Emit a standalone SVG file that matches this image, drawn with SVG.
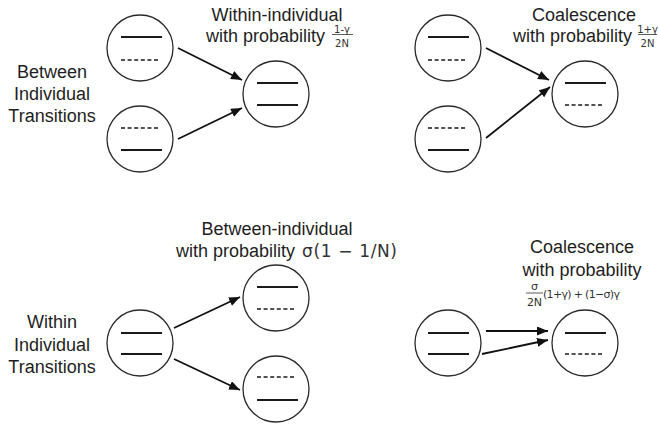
<svg xmlns="http://www.w3.org/2000/svg" width="659" height="427" viewBox="0 0 659 427">
<style>
.c{fill:#fff;stroke:#2a2a2a;stroke-width:1.3}
.s{stroke:#1a1a1a;stroke-width:2;fill:none}
.d{stroke:#1a1a1a;stroke-width:1.6;stroke-dasharray:4 2.6;fill:none}
.a{stroke:#111;stroke-width:1.8;fill:none;marker-end:url(#ah)}
.t{font-family:"Liberation Sans",Arial,sans-serif;font-size:18px;fill:#1e1e1e}
.m{font-family:"DejaVu Sans",sans-serif;fill:#333}
.fb{stroke:#333;stroke-width:0.8}
</style>
<defs>
<marker id="ah" markerUnits="userSpaceOnUse" markerWidth="12" markerHeight="10" refX="11" refY="4.5" orient="auto">
<path d="M0,0 L11,4.5 L0,9 Z" fill="#111"/>
</marker>
</defs>
<rect width="659" height="427" fill="#fff"/>

<g id="labels">
<text class="t" text-anchor="middle"><tspan x="52" y="78">Between</tspan><tspan x="52" y="100">Individual</tspan><tspan x="52" y="122">Transitions</tspan></text>
<text class="t" text-anchor="middle"><tspan x="52" y="328">Within</tspan><tspan x="52" y="351">Individual</tspan><tspan x="52" y="373">Transitions</tspan></text>
<text class="t" x="277" y="21" text-anchor="middle">Within-individual</text>
<text class="t" x="206" y="42">with probability</text>
<text class="m" x="342" y="32.5" font-size="10" text-anchor="middle">1-γ</text>
<line class="fb" x1="332" y1="34.5" x2="353" y2="34.5"/>
<text class="m" x="342" y="46.5" font-size="10" text-anchor="middle">2N</text>
<text class="t" x="584" y="21" text-anchor="middle">Coalescence</text>
<text class="t" x="513" y="42">with probability</text>
<text class="m" x="647.5" y="32.5" font-size="10" text-anchor="middle">1+γ</text>
<line class="fb" x1="638" y1="34.5" x2="657" y2="34.5"/>
<text class="m" x="647.5" y="46.5" font-size="10" text-anchor="middle">2N</text>
<text class="t" x="277" y="235" text-anchor="middle">Between-individual</text>
<text class="t" x="176" y="257">with probability</text>
<text class="m" x="302" y="257" font-size="17" textLength="95" lengthAdjust="spacing" fill="#1e1e1e">σ(1 − 1/N)</text>
<text class="t" x="582" y="253" text-anchor="middle">Coalescence</text>
<text class="t" x="582" y="276" text-anchor="middle">with probability</text>
<text class="m" x="534.5" y="289.5" font-size="11" text-anchor="middle">σ</text>
<line class="fb" x1="526" y1="293" x2="543" y2="293"/>
<text class="m" x="534.5" y="306" font-size="11" text-anchor="middle">2N</text>
<text class="m" x="543" y="298" font-size="11" textLength="77" lengthAdjust="spacing">(1+γ) + (1−σ)γ</text>
</g>

<g id="connectors">
<line class="a" x1="178" y1="48" x2="242" y2="80"/>
<line class="a" x1="178" y1="139" x2="242" y2="108"/>
<line class="a" x1="486" y1="48" x2="549" y2="80"/>
<line class="a" x1="486" y1="138" x2="550" y2="87"/>
<line class="a" x1="174" y1="328" x2="240" y2="297"/>
<line class="a" x1="174" y1="359" x2="240" y2="390"/>
<line class="a" x1="486" y1="331" x2="548" y2="331"/>
<line class="a" x1="482" y1="354" x2="548" y2="340"/>
</g>

<g id="A1"><circle class="c" cx="140" cy="48" r="33"/><line class="s" x1="121" y1="37" x2="162" y2="37"/><line class="d" x1="121" y1="60" x2="160" y2="60"/></g>
<g id="A2"><circle class="c" cx="140" cy="139" r="33"/><line class="d" x1="121" y1="128" x2="160" y2="128"/><line class="s" x1="121" y1="150" x2="162" y2="150"/></g>
<g id="A3"><circle class="c" cx="276" cy="94" r="33"/><line class="s" x1="257" y1="83" x2="298" y2="83"/><line class="s" x1="257" y1="105" x2="298" y2="105"/></g>

<g id="B1"><circle class="c" cx="448" cy="48" r="33"/><line class="s" x1="428" y1="37" x2="469" y2="37"/><line class="d" x1="428" y1="60" x2="467" y2="60"/></g>
<g id="B2"><circle class="c" cx="448" cy="139" r="33"/><line class="d" x1="428" y1="128" x2="467" y2="128"/><line class="s" x1="428" y1="150" x2="469" y2="150"/></g>
<g id="B3"><circle class="c" cx="585" cy="94" r="33"/><line class="s" x1="565" y1="83" x2="606" y2="83"/><line class="d" x1="565" y1="105" x2="604" y2="105"/></g>

<g id="C1"><circle class="c" cx="140" cy="343" r="33"/><line class="s" x1="121" y1="333" x2="162" y2="333"/><line class="s" x1="121" y1="354" x2="162" y2="354"/></g>
<g id="C2"><circle class="c" cx="276" cy="298" r="33"/><line class="s" x1="257" y1="287" x2="298" y2="287"/><line class="d" x1="257" y1="309" x2="296" y2="309"/></g>
<g id="C3"><circle class="c" cx="276" cy="389" r="33"/><line class="d" x1="257" y1="377" x2="296" y2="377"/><line class="s" x1="257" y1="400" x2="298" y2="400"/></g>

<g id="D1"><circle class="c" cx="448" cy="343" r="33"/><line class="s" x1="428" y1="333" x2="469" y2="333"/><line class="s" x1="428" y1="354" x2="469" y2="354"/></g>
<g id="D2"><circle class="c" cx="585" cy="343" r="33"/><line class="s" x1="565" y1="333" x2="606" y2="333"/><line class="d" x1="565" y1="354" x2="604" y2="354"/></g>
</svg>
